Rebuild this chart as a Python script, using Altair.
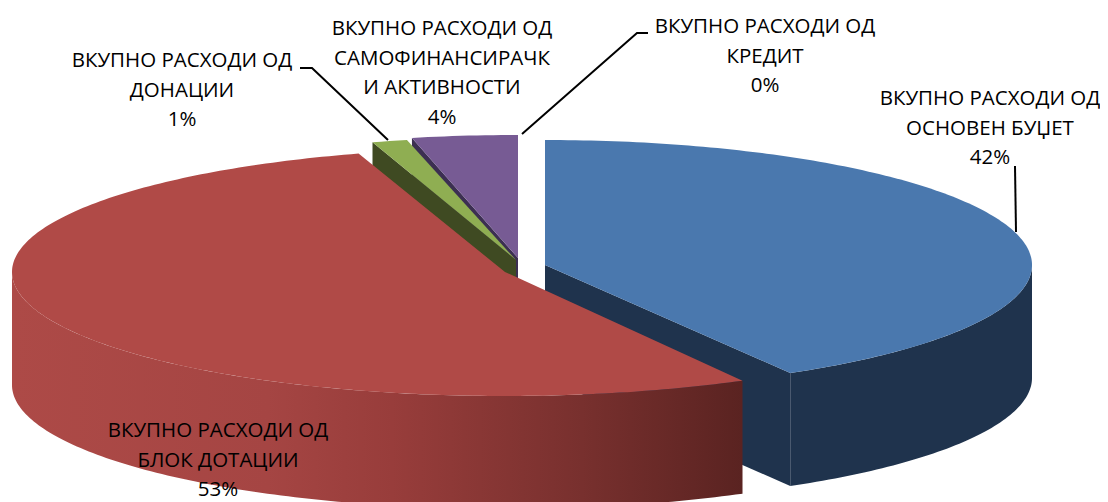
import math
import altair as alt

# Data
slice_names = ["ОСНОВЕН БУЏЕТ", "БЛОК ДОТАЦИИ", "ДОНАЦИИ", "САМОФИНАНСИРАЧКИ АКТИВНОСТИ"]
shares = [41.6, 53.6, 1.25, 3.55]
label_lines = [
    ["ВКУПНО РАСХОДИ ОД", "ОСНОВЕН БУЏЕТ", "42%"],
    ["ВКУПНО РАСХОДИ ОД", "БЛОК ДОТАЦИИ", "53%"],
    ["ВКУПНО РАСХОДИ ОД", "ДОНАЦИИ", "1%"],
    ["ВКУПНО РАСХОДИ ОД", "САМОФИНАНСИРАЧК", "И АКТИВНОСТИ", "4%"],
    ["ВКУПНО РАСХОДИ ОД", "КРЕДИТ", "0%"],
]

# Layout (page pixels)
OFFSET = 8
DEPTH = 113
geom = [  # apex x, apex y, radius x, radius y, angular trim at start (in %)
    (545, 265, 487, 125, 0.0),
    (505, 272, 493, 124, 0.4),
    (516, 260, 493, 123, 0.1),
    (518, 258, 493, 123, 0.1),
]
label_pos = [(990, 99), (218, 431), (182, 61), (442, 29), (765, 27)]
LINE_STEP = 29.6
FONT = "Open Sans"
FONT_SIZE = 20.5


def arc(i, start, stop, dy=0.0):
    cx, cy, a, b, _ = geom[i]
    n = max(2, int((stop - start) * 4))
    pts = []
    for k in range(n + 1):
        t = 2 * math.pi * (start + (stop - start) * k / n) / 100
        pts.append([cx + a * math.sin(t), cy - b * math.cos(t) + dy])
    return pts


def polygon(pts):
    return {"type": "Feature", "properties": {},
            "geometry": {"type": "Polygon", "coordinates": [pts + [pts[0]]]}}


def line(pts):
    return {"type": "Feature", "properties": {},
            "geometry": {"type": "LineString", "coordinates": pts}}


bounds = []
c = 0.0
for i, s in enumerate(shares):
    bounds.append((c + geom[i][4], c + s))
    c += s

top, wall, face_start, face_end = [], [], [], []
for i, (s0, s1) in enumerate(bounds):
    apex = [geom[i][0], geom[i][1]]
    rim = arc(i, s0, s1)
    top.append(polygon([apex] + rim))
    low = arc(i, s0, s1, DEPTH)
    face_start.append(polygon([apex, rim[0], low[0], [apex[0], apex[1] + DEPTH]]))
    face_end.append(polygon([apex, rim[-1], low[-1], [apex[0], apex[1] + DEPTH]]))
    # outer wall: only the front half of the rim is ever visible
    w0, w1 = max(s0, 25.0), min(s1, 75.0)
    if w1 > w0:
        wall.append(polygon(arc(i, w0, w1) + arc(i, w0, w1, DEPTH)[::-1]))
    else:
        wall.append(None)

proj = dict(type="identity", scale=1, translate=[-OFFSET, -OFFSET])


def shape(feature, fill):
    return alt.Chart(alt.Data(values=[feature])).mark_geoshape(
        fill=fill, stroke=None, strokeWidth=0, clip=False
    ).project(**proj)


red_wall_fill = alt.Gradient(
    gradient="linear", x1=0, x2=1, y1=0, y2=0,
    stops=[
        alt.GradientStop(offset=0.0, color="#ad4a47"),
        alt.GradientStop(offset=0.35, color="#a54543"),
        alt.GradientStop(offset=0.52, color="#983d3b"),
        alt.GradientStop(offset=0.78, color="#78302e"),
        alt.GradientStop(offset=1.0, color="#5a2321"),
    ],
)

layers = [
    shape(face_start[3], "#3c2f52"),
    shape(top[3], "#775b94"),
    shape(face_start[2], "#3f4a22"),
    shape(top[2], "#8fae52"),
    shape(face_end[0], "#1f334d"),
    shape(wall[0], "#1f334d"),
    shape(top[0], "#4a78ae"),
    shape(wall[1], red_wall_fill),
    shape(top[1], "#b04a47"),
]

leaders = [
    [[300, 68], [312, 68], [388, 140]],
    [[522, 134], [637, 33], [648, 33]],
    [[1015, 166], [1016, 232]],
]
for pts in leaders:
    layers.append(
        alt.Chart(alt.Data(values=[line(pts)])).mark_geoshape(
            filled=False, stroke="#000000", strokeWidth=2, clip=False
        ).project(**proj)
    )

rows = []
for lines, (x, y) in zip(label_lines, label_pos):
    for k, text in enumerate(lines):
        rows.append({"x": x - OFFSET, "y": y + k * LINE_STEP - OFFSET, "text": text})

labels = alt.Chart(alt.Data(values=rows)).mark_text(
    font=FONT, fontSize=FONT_SIZE, color="#000000", align="center", baseline="middle"
).encode(
    x=alt.X("x:Q", scale=None, axis=None),
    y=alt.Y("y:Q", scale=None, axis=None),
    text="text:N",
)
layers.append(labels)

chart = alt.layer(*layers).properties(
    width=1092, height=494, padding=0,
    autosize=alt.AutoSizeParams(type="none"),
    background="#ffffff",
).configure_view(stroke=None)

chart.save("out.html", embed_options={"renderer": "svg", "actions": False})
